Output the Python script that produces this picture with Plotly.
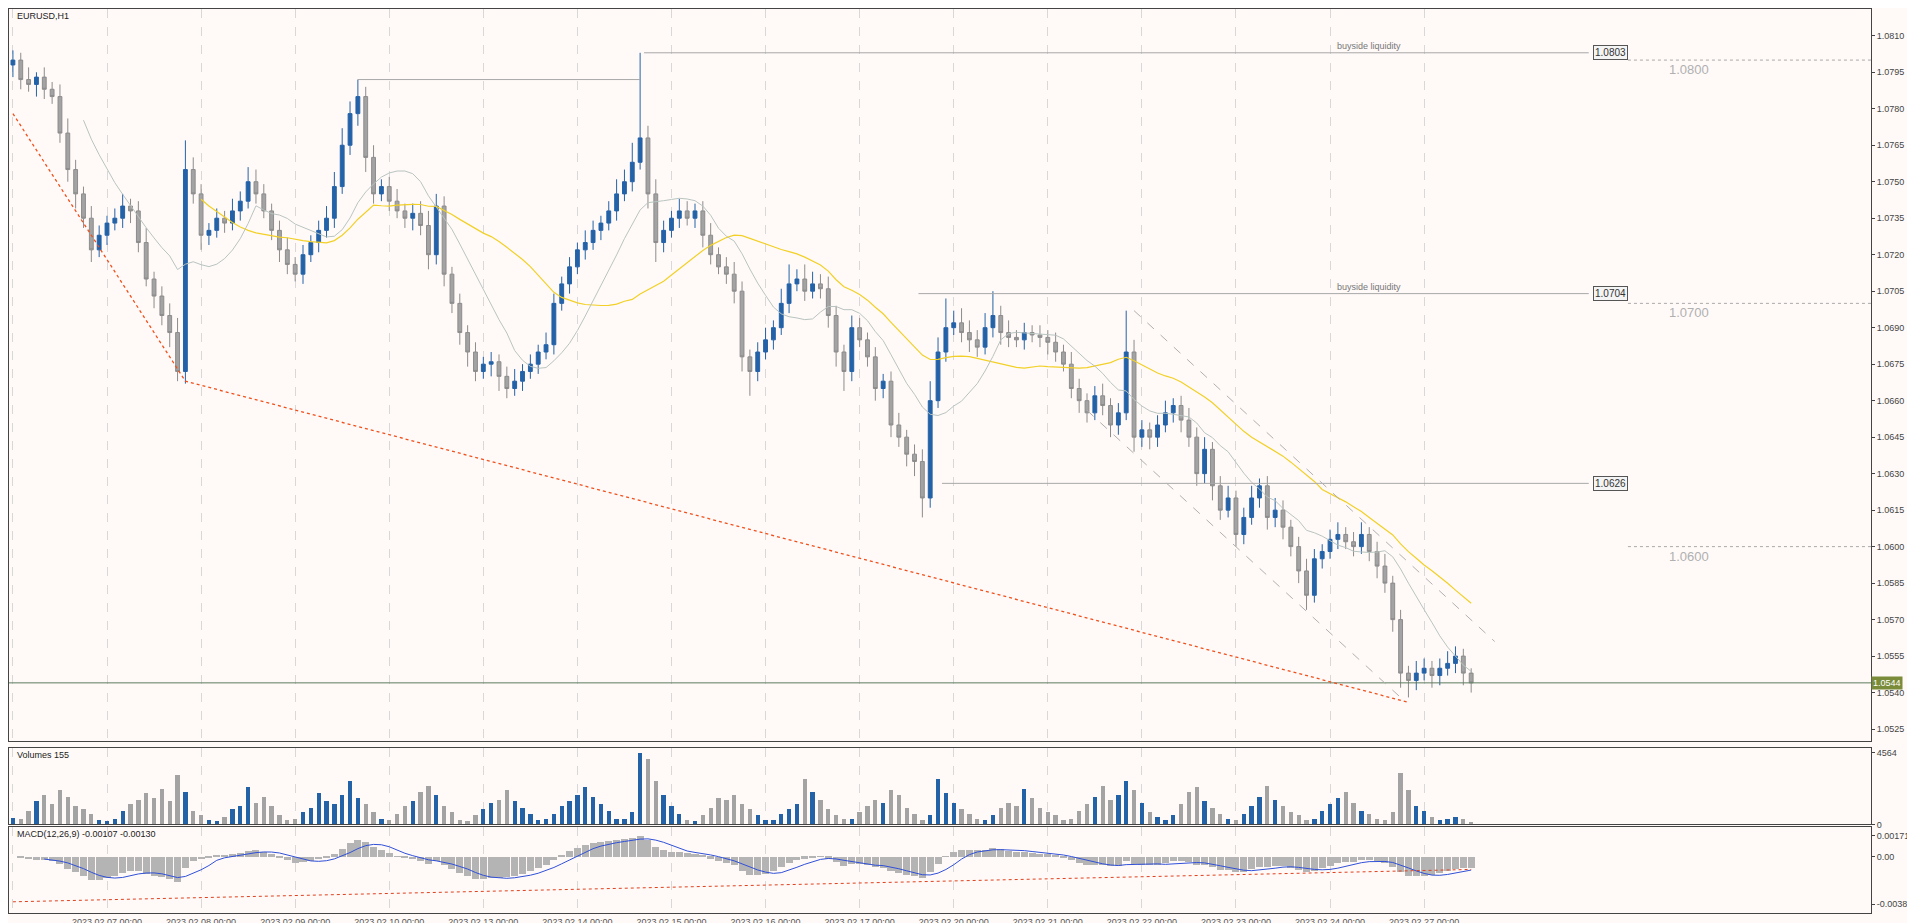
import plotly.graph_objects as go
import pandas as pd
import numpy as np

# closes in pips above 1.0000 (2-hour bars, 12 per trading day)
closes_p = [800, 792, 790, 793, 788, 785, 770, 755, 745, 735, 722, 728, 733,
            735, 740, 738, 725, 710, 703, 695, 688, 672,
            755, 745, 728, 730, 735, 733, 738, 742, 750,
            745, 738, 730, 722, 716, 712, 720, 725, 730, 735,
            748, 765, 778, 785, 760, 745, 748, 742, 738, 735,
            737, 732, 720, 740, 712, 700, 688, 680, 672, 675,
            676, 670, 665, 668, 672, 675, 680, 683, 700, 708,
            715, 722, 725, 730, 733, 738, 745, 750, 758, 768,
            745, 725, 730, 735, 738, 735, 738, 728, 720, 715,
            712, 705, 678, 672, 680, 685, 690, 700, 708, 710,
            705, 708, 706, 695, 680, 672, 690, 685, 678, 665,
            668, 650, 645, 638, 635, 620, 660, 680, 690, 692,
            688, 685, 682, 690, 695, 688, 686, 685, 688, 687,
            686, 684, 680, 675, 665, 660, 655, 662, 658, 650,
            655, 680, 645, 648, 645, 650, 655, 658, 652, 645,
            630, 640, 625, 615, 620, 605, 612, 620, 625, 612,
            615, 608, 600, 590, 580, 595, 598, 603, 605, 602,
            600, 605, 598, 592, 585, 570, 548, 545, 548, 550,
            547, 550, 552, 555, 548, 544]
hi_ext = [4, 3, 5, 2, 4, 3, 5, 6, 4, 3, 5, 4, 3,
          4, 5, 3, 4, 6, 3, 4, 5, 6,
          12, 5, 4, 3, 4, 3, 5, 4, 6,
          5, 4, 3, 4, 5, 3, 4, 3, 4, 5,
          6, 7, 5, 7, 4, 5, 3, 4, 5, 3,
          4, 5, 6, 5, 4, 3, 4, 3, 4, 3,
          4, 3, 4, 5, 3, 4, 3, 5, 4, 3,
          4, 3, 5, 4, 3, 4, 6, 5, 8, 35,
          5, 6, 4, 3, 5, 4, 3, 4, 5, 3,
          4, 5, 4, 3, 4, 5, 3, 6, 8, 4,
          6, 5, 4, 5, 4, 3, 5, 4, 3, 4,
          3, 4, 5, 3, 4, 5, 8, 6, 12, 5,
          6, 5, 4, 6, 10, 4, 5, 3, 4, 3,
          4, 3, 4, 3, 5, 4, 3, 4, 5, 3,
          4, 17, 5, 4, 3, 4, 5, 3, 4, 5,
          4, 5, 3, 4, 5, 3, 4, 5, 3, 4,
          5, 4, 3, 4, 5, 4, 3, 4, 5, 3,
          4, 5, 3, 4, 5, 3, 4, 3, 5, 4,
          3, 4, 5, 4, 3, 2]
lo_ext = [5, 4, 3, 5, 4, 3, 4, 5, 6, 4, 5, 3, 4,
          3, 4, 5, 4, 3, 5, 4, 6, 4,
          5, 4, 6, 4, 3, 4, 3, 4, 3,
          4, 3, 4, 5, 4, 3, 4, 3, 4, 3,
          4, 3, 4, 5, 6, 4, 3, 4, 3, 4,
          5, 4, 6, 4, 5, 4, 5, 6, 4, 3,
          5, 6, 4, 3, 4, 3, 4, 3, 4, 3,
          4, 3, 4, 3, 4, 3, 4, 3, 4, 3,
          6, 8, 4, 3, 4, 3, 4, 5, 4, 3,
          4, 5, 6, 10, 4, 3, 4, 3, 4, 3,
          4, 3, 4, 5, 6, 8, 4, 3, 4, 5,
          4, 5, 4, 5, 6, 8, 4, 3, 4, 3,
          4, 5, 4, 3, 4, 5, 4, 3, 4, 3,
          4, 5, 4, 3, 4, 5, 4, 3, 4, 5,
          4, 3, 6, 4, 5, 4, 3, 4, 5, 4,
          5, 4, 6, 4, 3, 5, 4, 3, 4, 5,
          4, 5, 4, 5, 6, 3, 4, 3, 4, 3,
          4, 3, 4, 5, 4, 5, 6, 7, 4, 3,
          5, 4, 3, 4, 5, 4]
volumes = [420, 380, 900, 1500, 1900, 1300, 2200, 1800, 1200, 1000, 700, 300, 250,
           400, 900, 1300, 1600, 2000, 1700, 2300, 1500, 3200,
           2100, 900, 600, 300, 250, 500, 1000, 1200, 2400,
           1400, 1800, 1200, 600, 300, 350, 800, 1100, 2000, 1500,
           1300, 1900, 2800, 1700, 1300, 800, 400, 300, 700, 1200,
           1500, 2100, 2500, 1900, 1200, 800, 300, 250, 600, 1000,
           1400, 1600, 2200, 1500, 1100, 700, 300, 350, 700, 1200,
           1500, 1900, 2400, 1800, 1300, 900, 400, 350, 800, 4564,
           4200, 2800, 1900, 1200, 700, 300, 250, 600, 1100, 1700,
           1600, 1900, 1300, 1000, 600, 300, 300, 700, 1000, 1300,
           2900, 2100, 1600, 1000, 600, 400, 350, 800, 1200, 1600,
           1400, 2200, 1900, 1100, 700, 300, 600, 2900, 2000, 1400,
           1000, 700, 400, 300, 600, 1100, 1400, 1200, 2300, 1700,
           1100, 800, 600, 300, 400, 900, 1300, 1800, 2500, 1600,
           1900, 2800, 2200, 1400, 800, 500, 300, 600, 1300, 2100,
           2400, 1500, 1100, 700, 400, 300, 700, 1200, 1800, 2500,
           1600, 1200, 800, 600, 300, 400, 900, 1300, 1700, 2100,
           1400, 900, 700, 400, 300, 800, 3300, 2200, 1200, 900,
           500, 300, 400, 500, 350, 200]
day_labels = ["2023.02.06 00:00", "2023.02.07 00:00", "2023.02.08 00:00", "2023.02.09 00:00",
              "2023.02.10 00:00", "2023.02.13 00:00", "2023.02.14 00:00", "2023.02.15 00:00",
              "2023.02.16 00:00", "2023.02.17 00:00", "2023.02.20 00:00", "2023.02.21 00:00",
              "2023.02.22 00:00", "2023.02.23 00:00", "2023.02.24 00:00", "2023.02.27 00:00"]
levels = [1.0803, 1.0704, 1.0626]
current_price = 1.0544

closes = np.array(closes_p) / 10000 + 1.0
opens = np.concatenate([[1.0798], closes[:-1]])
highs = np.maximum(opens, closes) + np.array(hi_ext) / 10000
lows = np.minimum(opens, closes) - np.array(lo_ext) / 10000
n = len(closes)
x = np.arange(n)
s = pd.Series(closes)
ma_slow = s.rolling(25).mean()
ma_fast = s.rolling(10).mean()
ema_f = s.ewm(span=6, adjust=False).mean()
ema_s = s.ewm(span=13, adjust=False).mean()
macd = ema_f - ema_s
signal = macd.rolling(5).mean()

BLUE = "#2462a8"
GRAY = "#a3a3a3"
up = closes >= opens
bar_cols = [BLUE if u else GRAY for u in up]

fig = go.Figure()
fig.add_trace(go.Candlestick(x=x, open=opens, high=highs, low=lows, close=closes,
                             increasing=dict(line=dict(color=BLUE, width=1), fillcolor=BLUE),
                             decreasing=dict(line=dict(color="#8c8c8c", width=1), fillcolor=GRAY),
                             whiskerwidth=0, xaxis="x", yaxis="y", showlegend=False))
fig.add_trace(go.Scatter(x=x, y=ma_slow, mode="lines", line=dict(color="#f2d027", width=1.2),
                         xaxis="x", yaxis="y", showlegend=False))
fig.add_trace(go.Scatter(x=x, y=ma_fast, mode="lines", line=dict(color="#b8c4c0", width=1),
                         xaxis="x", yaxis="y", showlegend=False))
fig.add_trace(go.Bar(x=x, y=volumes, marker=dict(color=bar_cols, line=dict(width=0)), width=0.55,
                     xaxis="x2", yaxis="y2", showlegend=False))
fig.add_trace(go.Bar(x=x, y=macd, marker=dict(color="#b4b4b4", line=dict(width=0)), width=0.9,
                     xaxis="x3", yaxis="y3", showlegend=False))
fig.add_trace(go.Scatter(x=x, y=signal, mode="lines", line=dict(color="#3050d8", width=1),
                         xaxis="x3", yaxis="y3", showlegend=False))
fig.add_trace(go.Scatter(x=[0, n - 1], y=[-0.0036, -0.0010], mode="lines",
                         line=dict(color="#e0401c", width=1, dash="dot"),
                         xaxis="x3", yaxis="y3", showlegend=False))

XR = [-0.5, 237]
axis_common = dict(showline=True, linecolor="#444", linewidth=1, mirror=True,
                   zeroline=False, tickfont=dict(family="Liberation Sans", size=9, color="#444"))
tickvals = [i * 12 for i in range(len(day_labels))]
xgrid = dict(showgrid=True, gridcolor="#d8d8d8", griddash="dash", tickvals=tickvals, range=XR)
main_ticks = [round(1.0525 + 0.0015 * k, 4) for k in range(20)]
layout = dict(
    width=1915, height=923, margin=dict(l=1, r=52, t=1, b=18),
    paper_bgcolor="#fffaf8", plot_bgcolor="#fffaf8", bargap=0,
    xaxis=dict(domain=[0, 1], anchor="y", showticklabels=False, rangeslider=dict(visible=False),
               **xgrid, **axis_common),
    xaxis2=dict(domain=[0, 1], anchor="y2", matches="x", showticklabels=False, **xgrid, **axis_common),
    xaxis3=dict(domain=[0, 1], anchor="y3", matches="x", ticktext=day_labels, **xgrid, **axis_common),
    yaxis=dict(domain=[0.19, 1], side="right", range=[1.0520, 1.0821], tickvals=main_ticks,
               tickformat=".4f", showgrid=False, ticks="outside", ticklen=3, **axis_common),
    yaxis2=dict(domain=[0.098, 0.183], side="right", range=[0, 4900], tickvals=[0, 4564],
                showgrid=False, ticks="outside", ticklen=3, **axis_common),
    yaxis3=dict(domain=[0, 0.095], side="right", range=[-0.0045, 0.0024],
                tickvals=[0.00171, 0.0, -0.0038], ticktext=["0.00171", "0.00", "-0.0038"],
                showgrid=False, ticks="outside", ticklen=3, **axis_common),
)
fig.update_layout(**layout)
fig.update_xaxes(tickfont=dict(size=9, color="#555"), selector=dict(anchor="y3"))

shapes = []
ann = []
starts = [80.5, 115.5, 118.5]
for lv, st, txt in zip(levels, starts, ["buyside liquidity", "buyside liquidity", ""]):
    shapes.append(dict(type="line", xref="x", yref="y", x0=st, x1=201, y0=lv, y1=lv,
                       line=dict(color="#a8a8a8", width=1)))
    ann.append(dict(xref="x", yref="y", x=201.5, y=lv, text=f"{lv:.4f}", showarrow=False, xanchor="left",
                    bgcolor="#f4f4f4", bordercolor="#555", borderwidth=1, borderpad=1,
                    font=dict(size=10, color="#333", family="Liberation Sans")))
    if txt:
        ann.append(dict(xref="x", yref="y", x=173, y=lv, text=txt, showarrow=False, yanchor="bottom",
                        font=dict(size=9, color="#777", family="Liberation Sans")))
shapes.append(dict(type="line", xref="x", yref="y", x0=44, x1=80, y0=1.0792, y1=1.0792,
                   line=dict(color="#a8a8a8", width=1)))
for lv in [1.0800, 1.0700, 1.0600]:
    shapes.append(dict(type="line", xref="x", yref="y", x0=206, x1=237, y0=lv, y1=lv,
                       line=dict(color="#aaaaaa", width=1, dash="dot")))
    ann.append(dict(xref="x", yref="y", x=211, y=lv, text=f"{lv:.4f}", showarrow=False, xanchor="left",
                    yanchor="top", font=dict(size=13, color="#b0b0b0", family="Liberation Sans")))
shapes.append(dict(type="line", xref="x", yref="y", x0=XR[0], x1=XR[1], y0=current_price, y1=current_price,
                   line=dict(color="#5f7a5f", width=1)))
ann.append(dict(xref="paper", yref="y", x=1.0, y=current_price, text=f"{current_price:.4f}", showarrow=False,
                xanchor="left", bgcolor="#7a8c3a", font=dict(size=9, color="white", family="Liberation Sans")))
shapes.append(dict(type="path", xref="x", yref="y", path="M 0,1.0778 L 22,1.0668 L 178,1.0536",
                   line=dict(color="#f0501c", width=1.3, dash="dot")))
shapes.append(dict(type="line", xref="x", yref="y", x0=143, x1=189, y0=1.0697, y1=1.0561,
                   line=dict(color="#b0b0b0", width=1, dash="dash")))
shapes.append(dict(type="line", xref="x", yref="y", x0=137, x1=177, y0=1.0656, y1=1.0538,
                   line=dict(color="#b0b0b0", width=1, dash="dash")))
ann.append(dict(xref="paper", yref="paper", x=0.003, y=1.0, text="EURUSD,H1", showarrow=False,
                xanchor="left", yanchor="top", font=dict(size=9, color="#222", family="Liberation Sans")))
ann.append(dict(xref="paper", yref="paper", x=0.003, y=0.183, text="Volumes 155", showarrow=False,
                xanchor="left", yanchor="top", font=dict(size=9, color="#222", family="Liberation Sans")))
ann.append(dict(xref="paper", yref="paper", x=0.003, y=0.095, text="MACD(12,26,9) -0.00107 -0.00130",
                showarrow=False, xanchor="left", yanchor="top",
                font=dict(size=9, color="#222", family="Liberation Sans")))
fig.update_layout(shapes=shapes, annotations=ann)
fig.write_html("out.html")
